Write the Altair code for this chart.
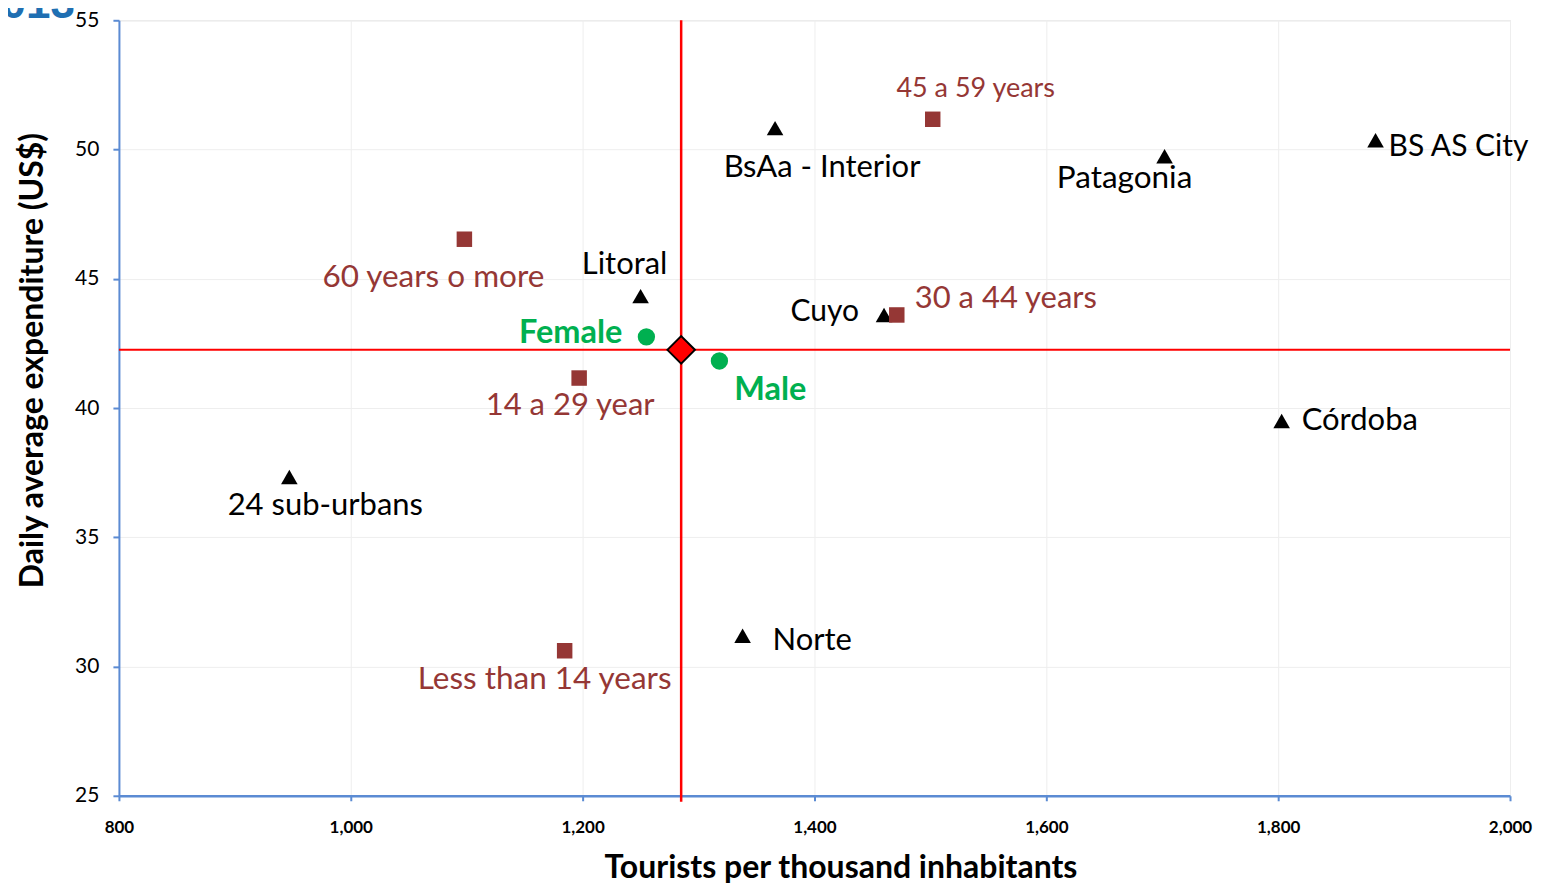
import altair as alt
import pandas as pd

# ---- data ----
region_names = ["BsAa - Interior", "Patagonia", "BS AS City", "Litoral", "Cuyo",
                "Córdoba", "24 sub-urbans", "Norte"]
region_x = [1366, 1702, 1884, 1250, 1460, 1803, 947, 1338]
region_y = [50.83, 49.74, 50.36, 44.33, 43.6, 39.5, 37.33, 31.19]

age_names = ["45 a 59 years", "60 years o more", "30 a 44 years", "14 a 29 year",
             "Less than 14 years"]
age_x = [1502, 1098, 1471, 1197, 1184.5]
age_y = [51.17, 46.53, 43.6, 41.16, 30.61]

gender_names = ["Female", "Male"]
gender_x = [1255, 1318]
gender_y = [42.75, 41.82]

avg_x = [1285]
avg_y = [42.25]

x_ticks = [800, 1000, 1200, 1400, 1600, 1800, 2000]
y_ticks = [25, 30, 35, 40, 45, 50, 55]
x_domain = [800, 2000]
y_domain = [25, 55]

# ---- tables ----
regions = pd.DataFrame({"name": region_names, "x": region_x, "y": region_y})
ages = pd.DataFrame({"name": age_names, "x": age_x, "y": age_y})
genders = pd.DataFrame({"name": gender_names, "x": gender_x, "y": gender_y})
avg = pd.DataFrame({"x": avg_x, "y": avg_y})
hline = pd.DataFrame({"x": [x_domain[0]], "x2": [x_domain[1]], "y": avg_y})

FONT = "Lato"
BROWN = "#953735"
GREEN = "#00B050"
AXIS_BLUE = "#5B8BD3"

x_scale = alt.Scale(domain=x_domain, nice=False, zero=False)
y_scale = alt.Scale(domain=y_domain, nice=False, zero=False)

x_axis = alt.Axis(values=x_ticks, format=",d", title="Tourists per thousand inhabitants",
                  labelFont=FONT, labelFontWeight="bold", labelFontSize=17,
                  labelColor="black", labelPadding=19, tickSize=5, labelFlush=False,
                  domainColor=AXIS_BLUE, domainWidth=2.5, tickColor=AXIS_BLUE,
                  tickWidth=2, gridColor="#EEEEEE", gridWidth=1,
                  titleFont=FONT, titleFontSize=32, titleFontWeight="bold",
                  titleColor="black", titleX=722, titleY=72, titleBaseline="middle",
                  titleAlign="center")
y_axis = alt.Axis(values=y_ticks, title="Daily average expenditure (US$)",
                  labelFont=FONT, labelFontSize=21, labelColor="black",
                  labelPadding=14, tickSize=6,
                  domainColor=AXIS_BLUE, domainWidth=2, tickColor=AXIS_BLUE,
                  tickWidth=2, gridColor="#EEEEEE", gridWidth=1,
                  titleFont=FONT, titleFontSize=32, titleFontWeight="bold",
                  titleColor="black", titleX=-86, titleY=340, titleBaseline="middle",
                  titleAlign="center", titleAngle=-90)

X = alt.X("x:Q", scale=x_scale, axis=x_axis)
Y = alt.Y("y:Q", scale=y_scale, axis=y_axis)

vrule = alt.Chart(avg).mark_rule(color="red", strokeWidth=2.5).encode(
    x=X, y=alt.value(0), y2=alt.value(782))
hrule = alt.Chart(hline).mark_rule(color="red", strokeWidth=2).encode(
    x=X, x2="x2:Q", y=Y)

tri = alt.Chart(regions).mark_point(shape="triangle-up", filled=True, color="black",
                                    opacity=1, size=275).encode(x=X, y=Y)
sq = alt.Chart(ages).mark_point(shape="square", filled=True, color=BROWN,
                                opacity=1, size=240).encode(x=X, y=Y)
circ = alt.Chart(genders).mark_point(shape="circle", filled=True, color=GREEN,
                                     opacity=1, size=300).encode(x=X, y=Y)
dia = alt.Chart(avg).mark_point(shape="diamond", filled=True, fill="red", stroke="black",
                                strokeWidth=2, opacity=1, size=760).encode(x=X, y=Y)

# label styles: align, dx, dy, fontSize, colour, weight
label_style = {
    "BsAa - Interior": ("center", 47, 40, 31, "black", "normal"),
    "Patagonia": ("center", -40, 23, 31.5, "black", "normal"),
    "BS AS City": ("left", 13, 7, 30, "black", "normal"),
    "Litoral": ("center", -16, -31, 31, "black", "normal"),
    "Cuyo": ("right", -25, -3, 30, "black", "normal"),
    "Córdoba": ("left", 20, 0, 31, "black", "normal"),
    "24 sub-urbans": ("center", 36, 29, 31, "black", "normal"),
    "Norte": ("left", 30, 5, 31, "black", "normal"),
    "45 a 59 years": ("center", 43, -30, 27, BROWN, "normal"),
    "60 years o more": ("center", -31, 39, 31.5, BROWN, "normal"),
    "30 a 44 years": ("left", 18, -16, 31, BROWN, "normal"),
    "14 a 29 year": ("center", -9, 28, 31, BROWN, "normal"),
    "Less than 14 years": ("center", -20, 29, 31.5, BROWN, "normal"),
    "Female": ("right", -24, -4, 32.5, GREEN, "bold"),
    "Male": ("center", 51, 29, 32.5, GREEN, "bold"),
}

labels = []
for df in (regions, ages, genders):
    for n in df["name"]:
        a, dx, dy, fs, col, fw = label_style[n]
        labels.append(
            alt.Chart(df).transform_filter(alt.datum.name == n).mark_text(
                align=a, baseline="middle", dx=dx, dy=dy, font=FONT, fontSize=fs,
                color=col, fontWeight=fw).encode(x=X, y=Y, text="name:N"))

corner = alt.Chart(avg).mark_text(text="2013", align="right", baseline="alphabetic",
                                  font="Liberation Sans", fontSize=44, fontWeight="bold",
                                  color="#1F6FB2").encode(x=alt.value(-44), y=alt.value(-2))

chart = alt.layer(vrule, hrule, tri, sq, circ, *labels, dia, corner).properties(
    width=1392, height=776,
    autosize=alt.AutoSizeParams(type="none"),
    padding={"left": 111, "top": 12, "right": 30, "bottom": 90},
).configure_view(stroke=None).configure(background="white")

chart.save("out.html", embed_options={"renderer": "svg", "actions": False})
